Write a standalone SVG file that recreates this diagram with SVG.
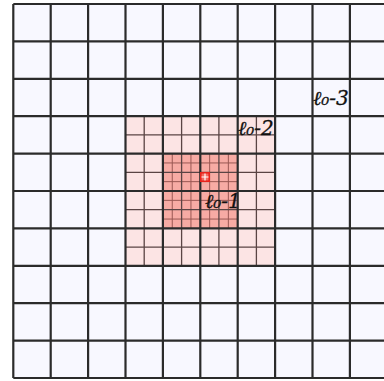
<svg xmlns="http://www.w3.org/2000/svg" width="384" height="381" viewBox="0 0 384 381">
<style>
.bg{fill:#f8f8ff}
.lvl2{fill:#fce4e4}
.lvl1{fill:#f7aba4}
.major{stroke:#2b2b2b;stroke-width:2.2;fill:none}
.half{stroke:#5a4444;stroke-width:1.3;fill:none}
.quarter{stroke:#9a5853;stroke-width:1;fill:none}
.lbl{font-family:"DejaVu Serif","Liberation Serif",serif;font-style:italic;font-size:20px;fill:#111;stroke:#111;stroke-width:0.3}
</style>
<rect class="bg" x="13.3" y="4" width="374" height="374"/>
<g id="region-l0-2"><rect class="lvl2" x="125.5" y="116.2" width="149.6" height="149.6"/></g>
<g id="region-l0-1"><rect class="lvl1" x="162.9" y="153.6" width="74.8" height="74.8"/></g>
<g id="subdivisions">
<path class="quarter" d="M172.25 153.6V228.4M190.95 153.6V228.4M209.65 153.6V228.4M228.35 153.6V228.4M162.9 162.95H237.7M162.9 181.65H237.7M162.9 200.35H237.7M162.9 219.05H237.7"/>
<path class="half" d="M144.2 116.2V265.8M181.6 116.2V265.8M218.9 116.2V265.8M256.4 116.2V265.8M125.5 134.9H275.1M125.5 172.3H275.1M125.5 209.7H275.1M125.5 247.1H275.1"/>
</g>
<g id="grid">
<path class="major" d="M13.3 4V378M50.7 4V378M88.1 4V378M125.5 4V378M162.9 4V378M200.3 4V378M237.7 4V378M275.1 4V378M312.5 4V378M349.9 4V378M13.3 4H387M13.3 41.4H387M13.3 78.8H387M13.3 116.2H387M13.3 153.6H387M13.3 191H387M13.3 228.4H387M13.3 265.8H387M13.3 303.2H387M13.3 340.6H387M13.3 378H387"/>
</g>
<g id="cell-l0">
<rect x="200.8" y="172.8" width="8.4" height="8.4" fill="#f36a62" stroke="#e8231c" stroke-width="1.6"/>
<path d="M205 173.5V180.5M201.5 177H208.5" stroke="#ffffff" stroke-width="1.2"/>
</g>
<g id="labels">
<text class="lbl" x="313" y="105">ℓ₀-3</text>
<text class="lbl" x="238" y="135">ℓ₀-2</text>
<text class="lbl" x="205" y="208">ℓ₀-1</text>
</g>
</svg>
